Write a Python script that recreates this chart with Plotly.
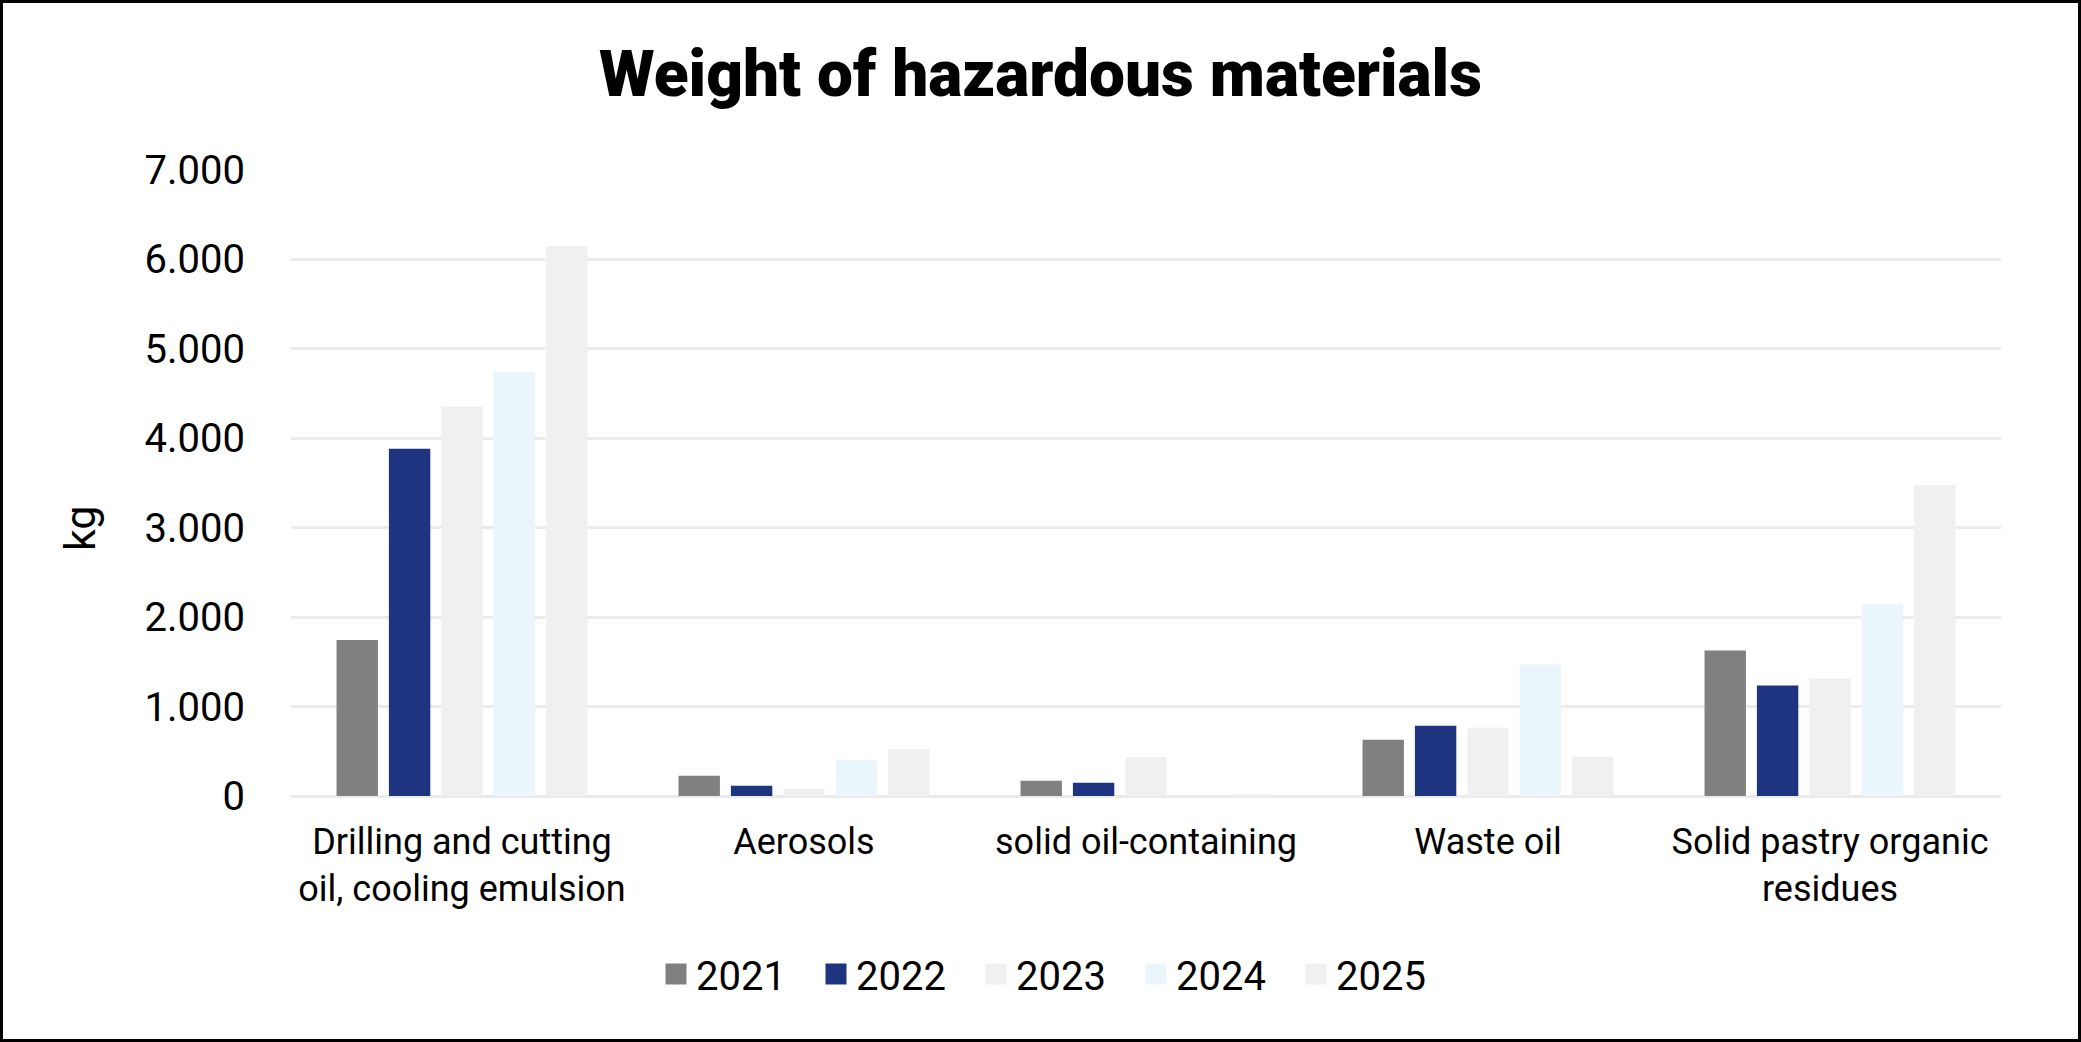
import plotly.graph_objects as go

categories = [
    "Drilling and cutting<br>oil, cooling emulsion",
    "Aerosols",
    "solid oil-containing",
    "Waste oil",
    "Solid pastry organic<br>residues",
]
years = ["2021", "2022", "2023", "2024", "2025"]
values_2021 = [1745, 226, 170, 628, 1627]
values_2022 = [3883, 115, 148, 786, 1235]
values_2023 = [4355, 81, 437, 763, 1313]
values_2024 = [4745, 404, 0, 1470, 2144]
values_2025 = [6147, 526, 22, 438, 3479]
series = [values_2021, values_2022, values_2023, values_2024, values_2025]
colors = ["#808080", "#1F3480", "#F0F0F0", "#EAF6FC", "#F0F0F0"]

W, H = 2081, 1042
ML, MR, MT, MB = 291, 80, 170, 246
PW, PH = W - ML - MR, H - MT - MB

fig = go.Figure()
for yr, vals, col in zip(years, series, colors):
    fig.add_trace(go.Bar(x=categories, y=vals, name=yr, marker=dict(color=col, line=dict(width=0)),
                         showlegend=False))
# legend entries with larger square swatches
for yr, col in zip(years, colors):
    fig.add_trace(go.Scatter(x=[None], y=[None], mode="markers", name=yr,
                             marker=dict(symbol="square", size=16, color=col,
                                         line=dict(color=col, width=5))))

def px_x(p):
    return (p - ML) / PW

def px_y(p):
    return (H - MB - p) / PH

fig.update_layout(
    width=W, height=H,
    margin=dict(l=ML, r=MR, t=MT, b=MB, pad=0),
    paper_bgcolor="white", plot_bgcolor="white",
    font=dict(family="Roboto", size=36, color="#000000"),
    separators=",.",
    barmode="group", bargap=0.234, bargroupgap=0.21,
    title=dict(text="Weight of hazardous materials", x=0.5, xanchor="center",
               y=1 - 74 / H, yanchor="middle",
               font=dict(size=64, family="Roboto", color="#000000", weight=900)),
    xaxis=dict(showgrid=False, showline=False, zeroline=False, ticks="outside", ticklen=14,
               tickcolor="rgba(0,0,0,0)", tickfont=dict(size=36, color="#000000")),
    yaxis=dict(range=[0, 7000], dtick=1000, tickformat=",d", showgrid=True, gridcolor="#EBEBEB",
               gridwidth=3, zeroline=True, zerolinecolor="#EBEBEB", zerolinewidth=3, showline=False,
               ticks="outside", ticklen=37, tickcolor="rgba(0,0,0,0)",
               tickfont=dict(size=40, color="#000000")),
    annotations=[dict(text="kg", textangle=-90, xref="paper", yref="paper",
                      x=px_x(80), y=px_y(528), xanchor="center", yanchor="middle",
                      showarrow=False, font=dict(size=43, color="#000000"))],
    legend=dict(orientation="h", x=px_x(1056), xanchor="center", y=px_y(974), yanchor="middle",
                font=dict(size=40, color="#000000"), entrywidth=115, bgcolor="rgba(0,0,0,0)"),
    shapes=[dict(type="rect", xref="paper", yref="paper",
                 x0=px_x(1.5), x1=px_x(W - 1.5), y0=px_y(H - 1.5), y1=px_y(1.5),
                 line=dict(color="black", width=3), fillcolor="rgba(0,0,0,0)", layer="above")],
)

fig.write_html("out.html")
